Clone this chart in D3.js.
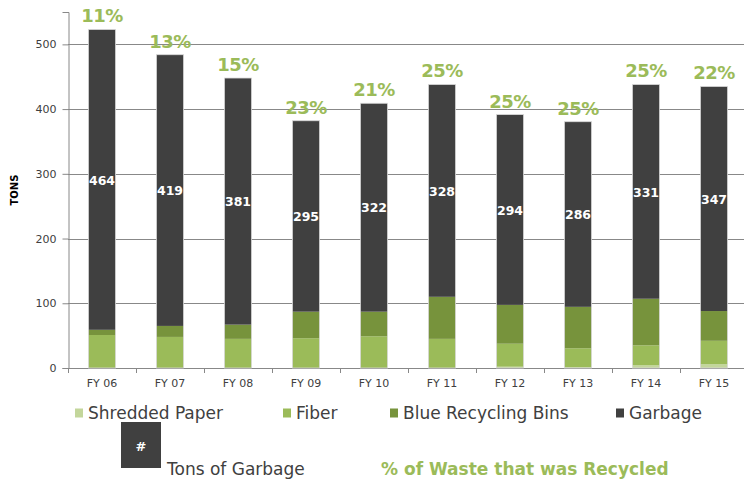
<!DOCTYPE html>
<html>
<head>
<meta charset="utf-8">
<script src="https://cdn.jsdelivr.net/npm/d3@7"></script>
<style>
body { margin: 0; background: #fff; }
svg { font-family: "DejaVu Sans", sans-serif; }
</style>
</head>
<body>
<svg id="chart" width="744" height="485"></svg>
<script>
// data (tons)
var years = ["FY 06", "FY 07", "FY 08", "FY 09", "FY 10", "FY 11", "FY 12", "FY 13", "FY 14", "FY 15"];
var shredded = [0, 0, 0, 0, 0, 0, 2, 1.5, 4.5, 6];
var fiber = [51, 48, 45, 46, 49, 45, 35.5, 29, 30.5, 36];
var blueBins = [8, 17, 22, 41, 38, 65, 60, 64, 72, 46];
var garbage = [464, 419, 381, 295, 322, 328, 294, 286, 331, 347];
var recycledPct = ["11%", "13%", "15%", "23%", "21%", "25%", "25%", "25%", "25%", "22%"];
var yTicks = [0, 100, 200, 300, 400, 500];

var seriesNames = ["Shredded Paper", "Fiber", "Blue Recycling Bins", "Garbage"];
var seriesColors = ["#c3d69b", "#9bbb59", "#77933c", "#404040"];
var green = "#9bbb59";

var svg = d3.select("#chart");
var plotLeft = 68, plotRight = 748, plotBottom = 368, plotTop = 12;

var rows = years.map(function(y, i) {
    return { year: y, "Shredded Paper": shredded[i], "Fiber": fiber[i],
        "Blue Recycling Bins": blueBins[i], "Garbage": garbage[i], pct: recycledPct[i] };
});

var x = d3.scaleBand().domain(years).range([plotLeft, plotRight]).padding(0);
var y = d3.scaleLinear().domain([0, 550]).range([plotBottom, plotTop]);
var barW = x.bandwidth() * 0.4;

// gridlines
svg.append("g").selectAll("line")
    .data(yTicks)
    .enter().append("line")
    .attr("x1", plotLeft).attr("x2", 744)
    .attr("y1", d => Math.round(y(d)) + 0.5).attr("y2", d => Math.round(y(d)) + 0.5)
    .attr("stroke", "#888").attr("stroke-width", 1);

// y axis
var yAxis = svg.append("g")
    .attr("transform", "translate(" + (plotLeft + 0.5) + ",0)")
    .call(d3.axisLeft(y).tickValues(yTicks).tickSize(6).tickPadding(6));
yAxis.select(".domain").attr("stroke", "#888");
yAxis.selectAll(".tick line").attr("stroke", "#888");
yAxis.selectAll("text").attr("fill", "#404040").style("font-size", "11px")
    .style("font-family", "DejaVu Sans, sans-serif");

svg.append("text")
    .attr("transform", "translate(18," + 190 + ") rotate(-90)")
    .attr("text-anchor", "middle")
    .style("font-size", "10px").style("font-weight", "bold")
    .attr("fill", "#000")
    .text("TONS");

// x axis ticks at band boundaries
var bounds = years.map(d => x(d)).concat([plotRight]);
svg.append("g").selectAll("line")
    .data(bounds)
    .enter().append("line")
    .attr("x1", d => Math.round(d) + 0.5).attr("x2", d => Math.round(d) + 0.5)
    .attr("y1", plotBottom).attr("y2", plotBottom + 5)
    .attr("stroke", "#888");

svg.append("g").selectAll("text")
    .data(years)
    .enter().append("text")
    .attr("x", d => x(d) + x.bandwidth() / 2)
    .attr("y", 387)
    .attr("text-anchor", "middle")
    .style("font-size", "11px")
    .attr("fill", "#404040")
    .text(d => d);

// stacked bars
var stack = d3.stack().keys(seriesNames);
var layers = stack(rows);
var color = d3.scaleOrdinal().domain(seriesNames).range(seriesColors);

svg.append("g").selectAll("g")
    .data(layers)
    .enter().append("g")
    .attr("fill", d => color(d.key))
    .selectAll("rect")
    .data(d => d)
    .enter().append("rect")
    .attr("x", d => x(d.data.year) + (x.bandwidth() - barW) / 2)
    .attr("y", d => y(d[1]))
    .attr("width", barW)
    .attr("height", d => Math.max(0, y(d[0]) - y(d[1])));

// bar outline (light edge)
svg.append("g").selectAll("rect")
    .data(layers[layers.length - 1])
    .enter().append("rect")
    .attr("x", d => x(d.data.year) + (x.bandwidth() - barW) / 2)
    .attr("y", d => y(d[1]))
    .attr("width", barW)
    .attr("height", d => y(0) - y(d[1]))
    .attr("fill", "none")
    .attr("stroke", "#d9d9d9").attr("stroke-width", 0.8);

// garbage labels
svg.append("g").selectAll("text")
    .data(layers[3])
    .enter().append("text")
    .attr("x", d => x(d.data.year) + x.bandwidth() / 2)
    .attr("y", d => (y(d[0]) + y(d[1])) / 2 + 5)
    .attr("text-anchor", "middle")
    .style("font-size", "12.5px").style("font-weight", "bold")
    .attr("fill", "#fff")
    .text(d => d.data["Garbage"]);

// percent recycled labels
svg.append("g").selectAll("text")
    .data(layers[3])
    .enter().append("text")
    .attr("x", d => x(d.data.year) + x.bandwidth() / 2)
    .attr("y", d => y(d[1]) - 7)
    .attr("text-anchor", "middle")
    .style("font-size", "18px").style("font-weight", "bold")
    .style("letter-spacing", "-0.5px")
    .attr("fill", green)
    .text(d => d.data.pct);

// legend
var legendX = [75, 283, 390, 616];
var legend = svg.append("g").selectAll("g")
    .data(seriesNames)
    .enter().append("g")
    .attr("transform", (d, i) => "translate(" + legendX[i] + ",413)");
legend.append("rect")
    .attr("x", 0).attr("y", -4.5)
    .attr("width", 8).attr("height", 9)
    .attr("fill", d => color(d));
legend.append("text")
    .attr("x", 13).attr("y", 6)
    .style("font-size", "17px")
    .attr("fill", "#404040")
    .text(d => d);

// bottom key
svg.append("rect")
    .attr("x", 121).attr("y", 422).attr("width", 40).attr("height", 46)
    .attr("fill", "#404040");
svg.append("text")
    .attr("x", 141).attr("y", 451)
    .attr("text-anchor", "middle")
    .style("font-size", "13px").style("font-weight", "bold")
    .attr("fill", "#fff").text("#");
svg.append("text")
    .attr("x", 167).attr("y", 475)
    .style("font-size", "17px")
    .attr("fill", "#404040").text("Tons of Garbage");
svg.append("text")
    .attr("x", 381).attr("y", 475)
    .style("font-size", "17px").style("font-weight", "bold")
    .attr("fill", green).text("% of Waste that was Recycled");
</script>
</body>
</html>
